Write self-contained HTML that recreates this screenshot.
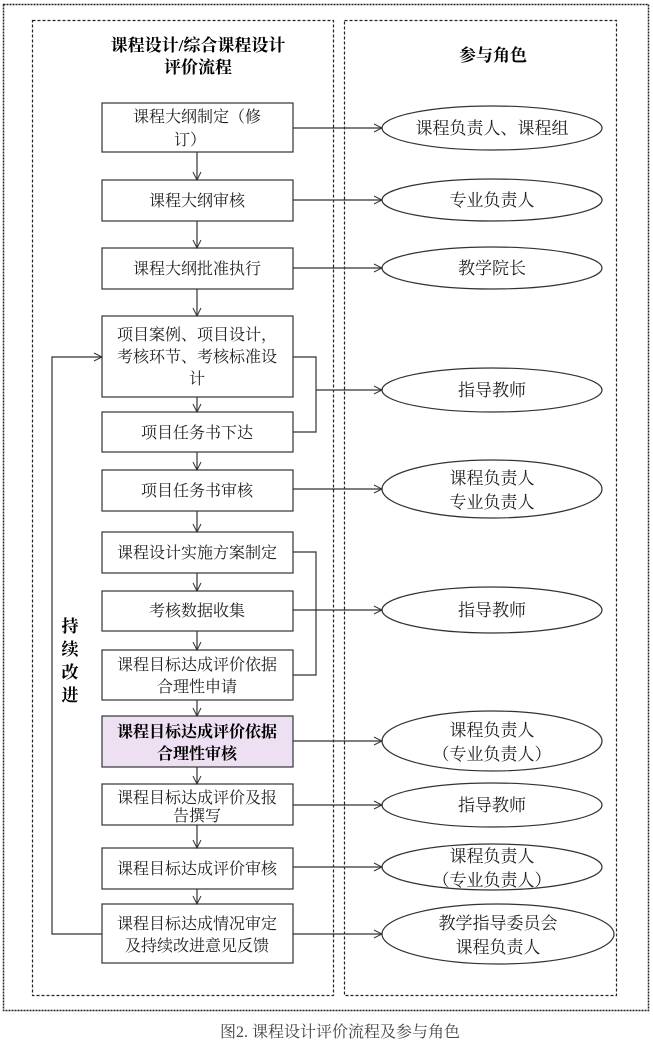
<!DOCTYPE html>
<html><head><meta charset="utf-8"><style>
html,body{margin:0;padding:0;background:#fff;}
svg{display:block;}
text{font-family:"Liberation Serif","Noto Serif CJK SC",serif;font-size:16px;fill:#222;text-anchor:middle;}
.b{font-weight:bold;font-size:17px;fill:#000;}
</style></head><body>
<svg width="653" height="1062" viewBox="0 0 653 1062" xmlns="http://www.w3.org/2000/svg">
<defs><marker id="a" markerWidth="10" markerHeight="10" refX="9" refY="5" orient="auto" markerUnits="userSpaceOnUse"><path d="M1,1 L9,5 L1,9" fill="none" stroke="#333" stroke-width="1"/></marker></defs>
<rect x="3.5" y="4.5" width="645" height="1006" fill="none" stroke="#222" stroke-width="1.5" stroke-dasharray="2,1"/>
<rect x="32.5" y="20.5" width="301" height="975" fill="none" stroke="#222" stroke-width="1.2" stroke-dasharray="3,2"/>
<rect x="344.5" y="20.5" width="272" height="975" fill="none" stroke="#222" stroke-width="1.2" stroke-dasharray="3,2"/>
<text class="b" x="198" y="51">课程设计/综合课程设计</text>
<text class="b" x="198" y="73">评价流程</text>
<text class="b" x="493" y="61">参与角色</text>
<g stroke="#333" stroke-width="1.2" fill="#fff">
<rect x="102" y="103" width="191" height="49"/>
<rect x="102" y="180" width="191" height="41"/>
<rect x="102" y="248" width="191" height="41"/>
<rect x="102" y="316" width="191" height="81"/>
<rect x="102" y="412" width="191" height="40"/>
<rect x="102" y="470" width="191" height="41"/>
<rect x="102" y="532" width="191" height="41"/>
<rect x="102" y="591" width="191" height="40"/>
<rect x="102" y="650" width="191" height="50"/>
<rect x="102" y="716" width="191" height="51" fill="#ece0f2"/>
<rect x="102" y="784" width="191" height="41"/>
<rect x="102" y="848" width="191" height="41"/>
<rect x="102" y="904" width="191" height="59"/>
<ellipse cx="492" cy="128" rx="110" ry="22"/>
<ellipse cx="492" cy="200" rx="110" ry="21"/>
<ellipse cx="492" cy="268" rx="110" ry="21"/>
<ellipse cx="492" cy="390" rx="110" ry="22"/>
<ellipse cx="492" cy="489" rx="110" ry="29"/>
<ellipse cx="492" cy="610" rx="110" ry="23"/>
<ellipse cx="492" cy="741" rx="110" ry="30"/>
<ellipse cx="492" cy="805" rx="110" ry="22"/>
<ellipse cx="492" cy="867" rx="110" ry="23"/>
<ellipse cx="498" cy="934" rx="116" ry="30"/>
</g>
<g stroke="#333" stroke-width="1.2" fill="none" marker-end="url(#a)">
<line x1="197" y1="152" x2="197" y2="180"/>
<line x1="197" y1="221" x2="197" y2="248"/>
<line x1="197" y1="289" x2="197" y2="316"/>
<line x1="197" y1="397" x2="197" y2="412"/>
<line x1="197" y1="452" x2="197" y2="470"/>
<line x1="197" y1="511" x2="197" y2="532"/>
<line x1="197" y1="573" x2="197" y2="591"/>
<line x1="197" y1="631" x2="197" y2="650"/>
<line x1="197" y1="700" x2="197" y2="716"/>
<line x1="197" y1="767" x2="197" y2="784"/>
<line x1="197" y1="825" x2="197" y2="848"/>
<line x1="197" y1="889" x2="197" y2="904"/>
<line x1="293" y1="128" x2="382" y2="128"/>
<line x1="293" y1="200" x2="382" y2="200"/>
<line x1="293" y1="268" x2="382" y2="268"/>
<line x1="316" y1="390" x2="382" y2="390"/>
<line x1="293" y1="489" x2="382" y2="489"/>
<line x1="293" y1="610" x2="382" y2="610"/>
<line x1="293" y1="741" x2="382" y2="741"/>
<line x1="293" y1="805" x2="382" y2="805"/>
<line x1="293" y1="867" x2="382" y2="867"/>
<line x1="293" y1="934" x2="382" y2="934"/>
<polyline points="102,934 52,934 52,357 102,357"/>
</g>
<g stroke="#333" stroke-width="1.2" fill="none">
<polyline points="293,357 316,357 316,432 293,432"/>
<polyline points="293,552 316,552 316,675 293,675"/>
</g>
<text x="197" y="122">课程大纲制定（修</text>
<text x="190" y="145">订）</text>
<text x="197" y="206">课程大纲审核</text>
<text x="197" y="274">课程大纲批准执行</text>
<text x="197" y="340">项目案例、项目设计，</text>
<text x="197" y="362">考核环节、考核标准设</text>
<text x="197" y="384">计</text>
<text x="197" y="438">项目任务书下达</text>
<text x="197" y="496">项目任务书审核</text>
<text x="197" y="558">课程设计实施方案制定</text>
<text x="197" y="616">考核数据收集</text>
<text x="197" y="670">课程目标达成评价依据</text>
<text x="197" y="692">合理性申请</text>
<text class="b" x="197" y="737" style="font-size:16px">课程目标达成评价依据</text>
<text class="b" x="197" y="759" style="font-size:16px">合理性审核</text>
<text x="197" y="803">课程目标达成评价及报</text>
<text x="197" y="821">告撰写</text>
<text x="197" y="874">课程目标达成评价审核</text>
<text x="197" y="929">课程目标达成情况审定</text>
<text x="197" y="951">及持续改进意见反馈</text>
<text x="492" y="134" style="font-size:17px">课程负责人、课程组</text>
<text x="492" y="206" style="font-size:17px">专业负责人</text>
<text x="492" y="274" style="font-size:17px">教学院长</text>
<text x="492" y="396" style="font-size:17px">指导教师</text>
<text x="492" y="484" style="font-size:17px">课程负责人</text>
<text x="492" y="508" style="font-size:17px">专业负责人</text>
<text x="492" y="616" style="font-size:17px">指导教师</text>
<text x="492" y="736" style="font-size:17px">课程负责人</text>
<text x="492" y="760" style="font-size:17px">（专业负责人）</text>
<text x="492" y="811" style="font-size:17px">指导教师</text>
<text x="492" y="862" style="font-size:17px">课程负责人</text>
<text x="492" y="886" style="font-size:17px">（专业负责人）</text>
<text x="498" y="929" style="font-size:17px">教学指导委员会</text>
<text x="498" y="953" style="font-size:17px">课程负责人</text>
<text class="b" x="70" y="632">持</text>
<text class="b" x="70" y="655">续</text>
<text class="b" x="70" y="678">改</text>
<text class="b" x="70" y="701">进</text>
<text x="340" y="1037" style="font-size:16px;fill:#444">图2. 课程设计评价流程及参与角色</text>
</svg>
</body></html>
